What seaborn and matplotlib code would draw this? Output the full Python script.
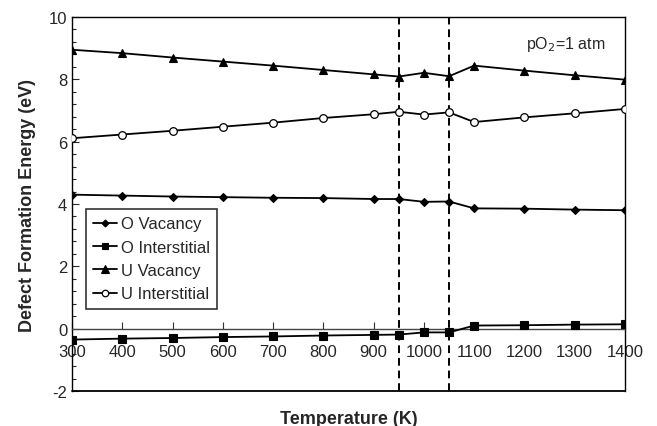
import matplotlib
matplotlib.use("Agg")
import matplotlib.pyplot as plt
import seaborn as sns
import pandas as pd
from matplotlib.lines import Line2D
from matplotlib.ticker import MultipleLocator

temperature = [300, 400, 500, 600, 700, 800, 900, 950, 1000, 1050, 1100, 1200, 1300, 1400]
o_vacancy = [4.30, 4.27, 4.24, 4.22, 4.20, 4.19, 4.16, 4.16, 4.07, 4.08, 3.86, 3.85, 3.82, 3.80]
o_interstitial = [-0.35, -0.32, -0.30, -0.27, -0.25, -0.22, -0.20, -0.19, -0.12, -0.12, 0.10, 0.11, 0.13, 0.14]
u_vacancy = [8.95, 8.84, 8.70, 8.57, 8.44, 8.30, 8.16, 8.09, 8.21, 8.10, 8.44, 8.28, 8.13, 7.99]
u_interstitial = [6.11, 6.23, 6.35, 6.48, 6.61, 6.76, 6.88, 6.96, 6.87, 6.94, 6.63, 6.78, 6.91, 7.05]
series_names = ["O Vacancy", "O Interstitial", "U Vacancy", "U Interstitial"]
phase_bounds = [950, 1050]
x_ticks = list(range(300, 1401, 100))

sns.set_theme(style="white")
plt.rcParams["font.family"] = ["Liberation Sans", "DejaVu Sans"]
plt.rcParams["axes.unicode_minus"] = False

fig = plt.figure(figsize=(6.57, 4.27), dpi=100)
ax = fig.add_axes([0.1096, 0.082, 0.8417, 0.8758])

styles = {
    "O Vacancy": dict(marker="D", ms=4.2, mfc="black", mec="black"),
    "O Interstitial": dict(marker="s", ms=5.5, mfc="black", mec="black"),
    "U Vacancy": dict(marker="^", ms=6, mfc="black", mec="black"),
    "U Interstitial": dict(marker="o", ms=5.5, mfc="white", mec="black", mew=0.9),
}
values = [o_vacancy, o_interstitial, u_vacancy, u_interstitial]

handles = []
for name, vals in zip(series_names, values):
    df = pd.DataFrame({"T": temperature, "E": vals})
    st = styles[name]
    sns.lineplot(data=df, x="T", y="E", ax=ax, color="black", lw=1.3,
                 marker=st["marker"], markersize=st["ms"],
                 markerfacecolor=st["mfc"], markeredgecolor=st["mec"],
                 markeredgewidth=st.get("mew", 0.8), zorder=3)
    handles.append(Line2D([], [], color="black", lw=1.3, marker=st["marker"],
                          markersize=st["ms"] * 0.85, markerfacecolor=st["mfc"],
                          markeredgecolor=st["mec"], markeredgewidth=st.get("mew", 0.8),
                          label=name))

for xb in phase_bounds:
    ax.axvline(xb, color="black", lw=1.4, ls=(0, (4, 2.5)), zorder=2)

ax.set_xlim(300, 1400)
ax.set_ylim(-2, 10)

# x axis drawn at y = 0, frame box kept around
ax.spines["bottom"].set_position(("data", 0))
ax.spines["bottom"].set_color("#444444")
ax.spines["bottom"].set_linewidth(1.0)
for s in ["left", "right", "top"]:
    ax.spines[s].set_color("black")
    ax.spines[s].set_linewidth(1.0)
ax.axhline(-2, color="black", lw=1.3, clip_on=False, zorder=4)

ax.set_xticks(x_ticks)
ax.set_xticklabels([str(t) for t in x_ticks])
ax.yaxis.set_major_locator(MultipleLocator(2))
ax.yaxis.set_minor_locator(MultipleLocator(0.4))
ax.tick_params(axis="x", direction="in", length=5, width=0.8, labelsize=12, pad=11, color="#333333", bottom=True)
ax.tick_params(axis="y", which="major", direction="in", length=5, width=0.8, labelsize=12, left=True)
ax.tick_params(axis="y", which="minor", direction="in", length=3, width=0.8, left=True)

ax.set_xlabel("Temperature (K)", fontsize=13, fontweight="bold")
ax.xaxis.set_label_coords(0.5, -0.05)
ax.set_ylabel("Defect Formation Energy (eV)", fontsize=13, fontweight="bold", labelpad=9)

ax.text(0.965, 0.93, "pO$_2$=1 atm", transform=ax.transAxes, ha="right", va="center", fontsize=11.5)

leg = ax.legend(handles=handles, loc="upper left", bbox_to_anchor=(0.025, 0.487),
                borderaxespad=0, frameon=True, fancybox=False, edgecolor="black",
                fontsize=12, handlelength=1.45, handletextpad=0.2, labelspacing=0.5,
                borderpad=0.45)
leg.get_frame().set_linewidth(1.2)

fig.savefig("out.png", dpi=100)
